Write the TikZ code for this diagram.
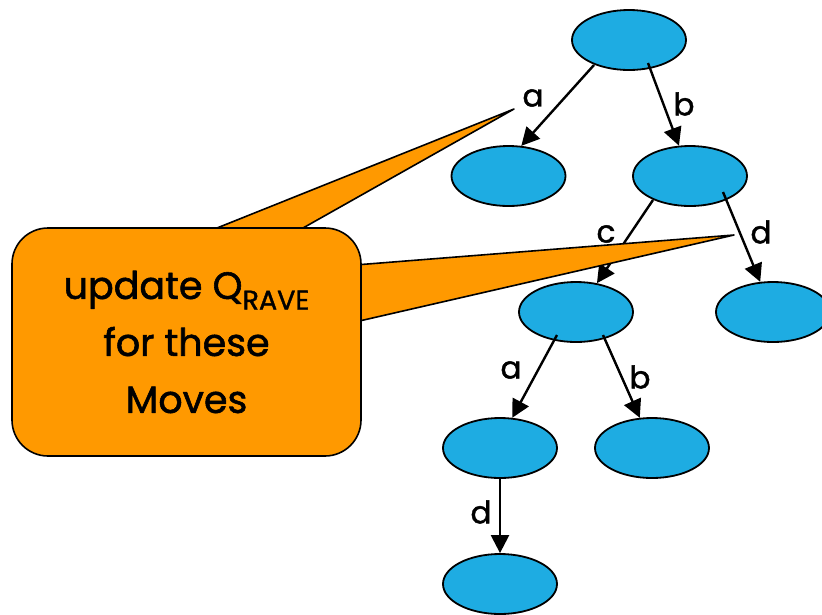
\documentclass[tikz,border=0pt]{standalone}
\usepackage{fontspec}
\setmainfont{Poppins}[FakeBold=1.5]
\usetikzlibrary{arrows.meta,shapes.geometric,calc}
\definecolor{nodeblue}{RGB}{30,172,226}
\definecolor{calloutorange}{RGB}{255,153,0}
\tikzset{
  state/.style={ellipse,draw=black,line width=1.8pt,fill=nodeblue,minimum width=114pt,minimum height=60pt,inner sep=0pt},
  edge/.style={line width=2.4pt,-{Triangle[length=18pt,width=18pt]}},
  lbl/.style={font=\fontsize{31}{31}\selectfont,inner sep=0pt},
  callout/.style={fill=calloutorange,draw=black,line width=1.6pt,line join=round}
}
\begin{document}
\begin{tikzpicture}[x=1pt,y=-1pt]
\useasboundingbox (0,0) rectangle (822,614);
\clip (0,0) rectangle (822,614);
% tree nodes
\node[state] (root) at (629,40) {};
\node[state] (na) at (508.5,176) {};
\node[state] (nb) at (690,176) {};
\node[state] (nc) at (576,312) {};
\node[state] (nd) at (773,312) {};
\node[state] (nca) at (500,448) {};
\node[state] (ncb) at (652,448) {};
\node[state] (ncad) at (500,584) {};
% edges
\draw[edge] ($(root)+(-35,25)$) -- (na.67);
\draw[edge] ($(root)+(19,23)$) -- (nb.110);
\draw[edge] ($(nb)+(-37,24)$) -- (nc.54);
\draw[edge] ($(nb)+(33,16)$) -- (nd.113);
\draw[edge] ($(nc)+(-19,23)$) -- (nca.68);
\draw[edge] ($(nc)+(27,23)$) -- (ncb.112);
\draw[edge] ($(nca)+(0,30)$) -- (ncad.90);
% edge labels
\node[lbl] (la1) at (533,98) {a};
\node[lbl] (lb1) at (684,104) {b};
\node[lbl] (lc) at (606,234) {c};
\node[lbl] (ld1) at (761,232) {d};
\node[lbl] (la2) at (511,370) {a};
\node[lbl] (lb2) at (640,377) {b};
\node[lbl] (ld2) at (481,512) {d};
% callout pointers
\coordinate (tipA) at (514,109);
\coordinate (tipB) at (734,235);
\draw[callout] (217,228) -- (tipA) -- (303,228) -- cycle;
\draw[callout] (355,265) -- (tipB) -- (355,322) -- cycle;
% callout box
\node[callout,rounded corners=36pt,minimum width=349pt,minimum height=228pt,inner sep=0pt,align=center,
  font=\fontsize{38}{57}\selectfont] (box) at (186.5,342)
  {update Q\raisebox{-0.28em}{\fontsize{27}{27}\selectfont RAVE}\\for these\\Moves};
\end{tikzpicture}
\end{document}
